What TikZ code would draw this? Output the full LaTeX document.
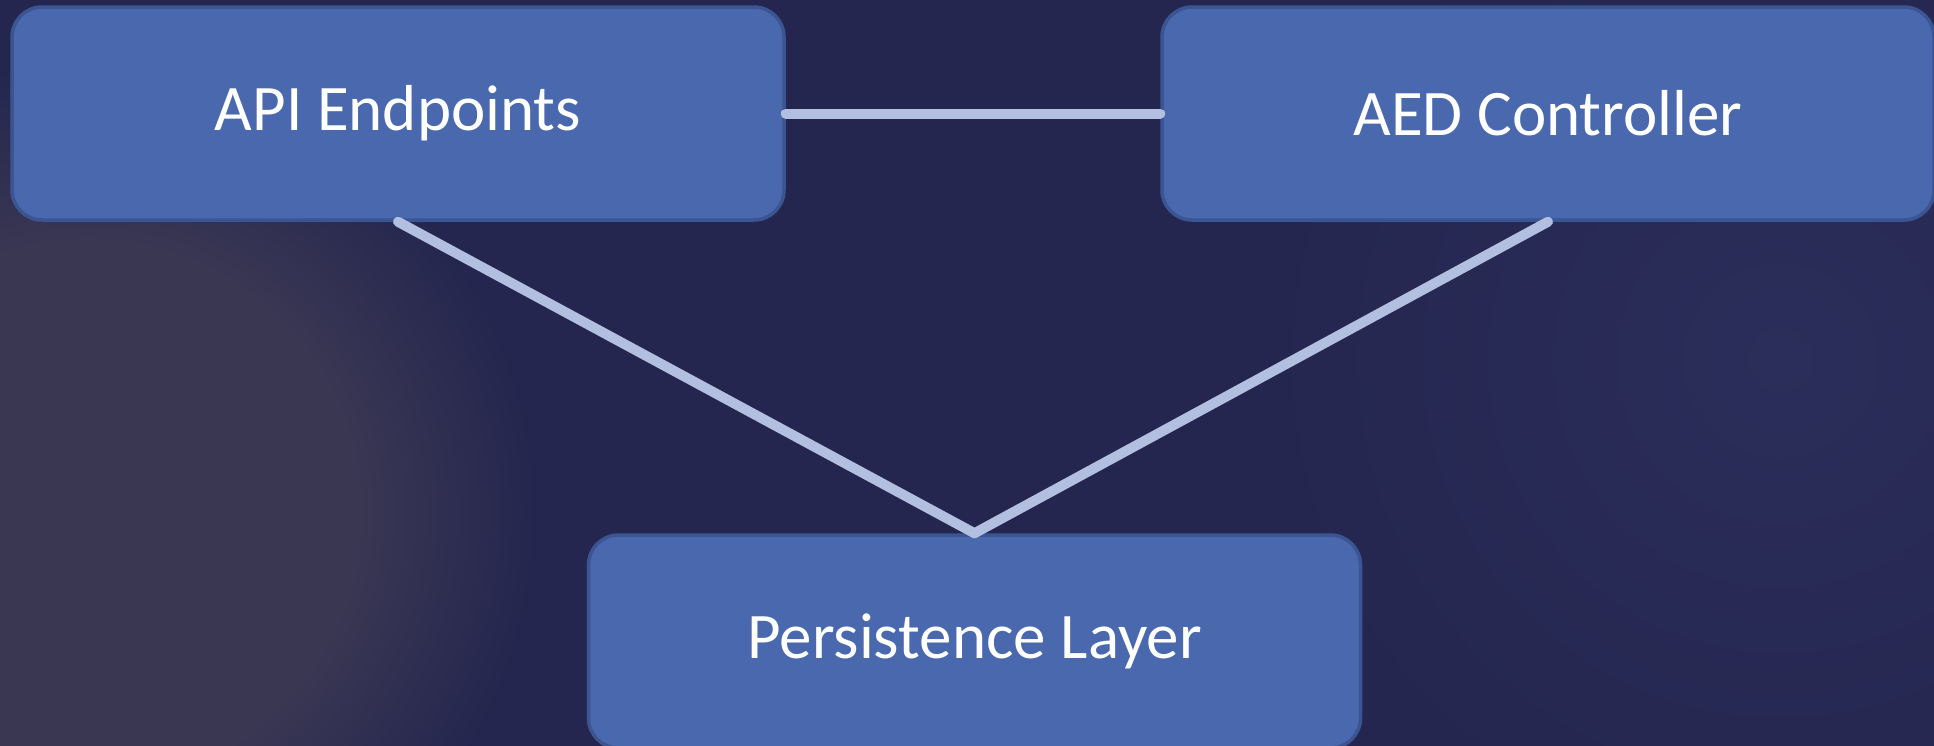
\documentclass[tikz,border=0pt]{standalone}
\usepackage{fontspec}
\setmainfont{Carlito}
\definecolor{bgnavy}{HTML}{24264F}
\definecolor{glowc}{HTML}{3A3753}
\definecolor{glowr}{HTML}{2B2E5A}
\definecolor{boxfill}{HTML}{4A68AE}
\definecolor{boxedge}{HTML}{3B5592}
\definecolor{linkc}{HTML}{B3BFE0}
\pgfdeclareradialshading{leftglow}{\pgfpoint{0bp}{0bp}}{color(0bp)=(glowc); color(15bp)=(glowc); color(25bp)=(bgnavy); color(50bp)=(bgnavy)}
\pgfdeclareradialshading{rightglow}{\pgfpoint{0bp}{0bp}}{color(0bp)=(glowr); color(25bp)=(bgnavy); color(50bp)=(bgnavy)}
\tikzset{
  block/.style={draw=boxedge, line width=3.5pt, fill=boxfill, rounded corners=30pt,
    minimum width=772pt, minimum height=213pt, inner sep=0pt, text=white,
    font=\fontsize{65}{78}\selectfont},
  link/.style={draw=linkc, line width=10pt, line cap=round, line join=round}
}
\begin{document}
\begin{tikzpicture}[x=1pt,y=-1pt]
  % background with soft glows (painted slightly past the page edge)
  \useasboundingbox (0,0) rectangle (1934,745);
  \fill[bgnavy] (-6,-6) rectangle (1940,752);
  \begin{scope}
    \clip (-6,-6) rectangle (1940,752);
    \shade[shading=rightglow] (1780,360) circle (520);
    \shade[shading=leftglow] (87,513) circle (450);
  \end{scope}
  % components
  \node[block] (api) at (398,113.5) {API Endpoints};
  \node[block] (aed) at (1548,113.5) {AED Controller};
  \node[block] (persist) at (974.5,641.5) {Persistence Layer};
  % connections
  \draw[link] (api.east) -- (aed.west);
  \draw[link] (api.south) -- (persist.north) -- (aed.south);
\end{tikzpicture}
\end{document}
